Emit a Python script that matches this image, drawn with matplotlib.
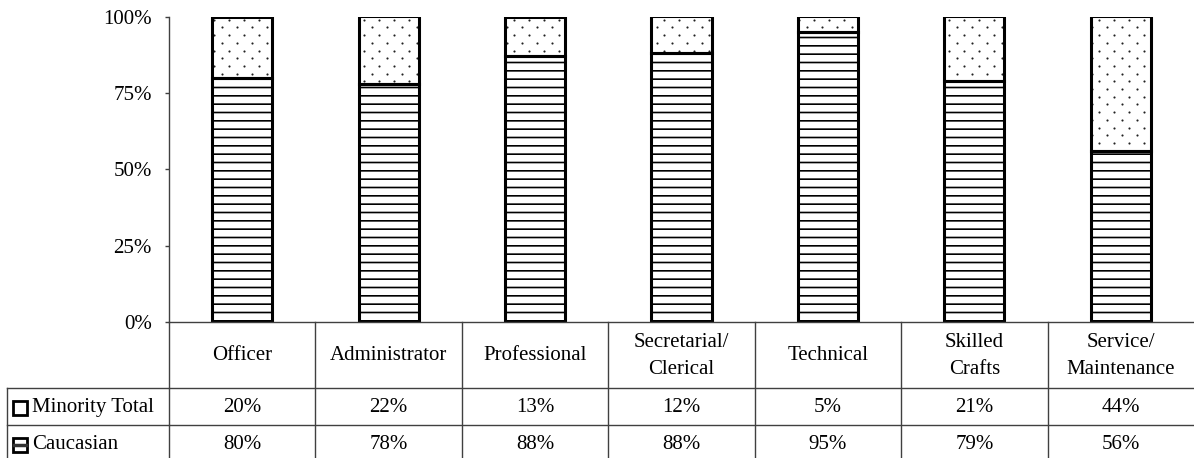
import matplotlib
matplotlib.use("Agg")
import matplotlib.pyplot as plt
from matplotlib.patches import Rectangle
from matplotlib.lines import Line2D
from matplotlib.transforms import Affine2D, blended_transform_factory
import numpy as np

# ---- data ----
categories = ["Officer", "Administrator", "Professional", "Secretarial/\nClerical",
              "Technical", "Skilled\nCrafts", "Service/\nMaintenance"]
minority = [20, 22, 13, 12, 5, 21, 44]
caucasian = [80, 78, 88, 88, 95, 79, 56]
series_names = ["Minority Total", "Caucasian"]
yticks = [0, 25, 50, 75, 100]

# ---- figure setup ----
W, H = 1194, 458
plt.rcParams['font.family'] = ['Liberation Serif', 'DejaVu Serif']
plt.rcParams['font.size'] = 15
plt.rcParams['hatch.linewidth'] = 1.2

fig = plt.figure(figsize=(W / 100, H / 100), dpi=100)
left, right = 169, 1194
top, bottom = 16.5, 322
ax = fig.add_axes([left / W, 1 - bottom / H, (right - left) / W, (bottom - top) / H])

x = np.arange(len(categories))
mino = np.array(minority, dtype=float)
cauc = np.array(caucasian, dtype=float)
total = mino + cauc
cauc_share = cauc / total * 100
mino_share = 100 - cauc_share

bar_w = 0.41
ax.bar(x, cauc_share, width=bar_w, color='white', edgecolor='black',
       linewidth=2.2, hatch='--', zorder=2)
top_bars = ax.bar(x, mino_share, bottom=cauc_share, width=bar_w, color='none',
                  edgecolor='black', linewidth=2.2, zorder=3)

pix = Affine2D().scale(1, -1).translate(0, H)          # image-pixel coords

# dotted fill texture for the upper segments, clipped to each bar
gx, gy = np.meshgrid(np.arange(0, W, 15.0), np.arange(0, H, 7.7))
gx = gx + np.where((np.arange(gy.shape[0]) % 2)[:, None] == 1, 7.5, 0.0)
for patch in top_bars.patches:
    dots = ax.scatter(gx.ravel() + 4, gy.ravel() + 4.3, s=2.4, color='#222222',
                      linewidths=0, transform=pix, zorder=2.5)
    dots.set_clip_path(patch)

ax.set_xlim(-0.5, len(categories) - 0.5)
ax.set_ylim(0, 100)
ax.set_yticks(yticks)
ax.set_yticklabels([f"{v}%" for v in yticks])
ax.set_xticks([])
ax.tick_params(axis='y', direction='out', length=3, width=1, pad=9.5,
               color='#404040')
for s in ['top', 'right']:
    ax.spines[s].set_visible(False)
ax.spines['left'].set_color('#404040')
ax.spines['left'].set_linewidth(1)
ax.spines['bottom'].set_color('#404040')
ax.spines['bottom'].set_linewidth(1)

# ---- data table below the axes ----
colx = blended_transform_factory(ax.transData, pix)     # x in data, y in pixels
line_kw = dict(color='#404040', linewidth=1, clip_on=False)

row_top = [388, 425]
row_h = 37
tab_bottom = 465
n = len(categories)

# vertical separators
for b in np.arange(n) - 0.5:
    ax.add_line(Line2D([b, b], [bottom, tab_bottom], transform=colx, **line_kw))
ax.add_line(Line2D([7, 7], [row_top[0], tab_bottom], transform=pix, **line_kw))

# horizontal separators
for yr in row_top:
    ax.add_line(Line2D([7, left], [yr, yr], transform=pix, **line_kw))
    ax.add_line(Line2D([-0.5, n - 0.5], [yr, yr], transform=colx, **line_kw))

# header labels
for i, c in enumerate(categories):
    ax.text(i, 356, c, transform=colx, ha='center', va='center',
            linespacing=1.55, fontsize=15)

# value rows
rows = [minority, caucasian]
for r, vals in enumerate(rows):
    yc = row_top[r] + row_h / 2 + 1
    for i, v in enumerate(vals):
        ax.text(i, yc, f"{v}%", transform=colx, ha='center', va='center', fontsize=15)
    # legend key + series name
    ax.add_patch(Rectangle((13, yc - 7), 14, 14, transform=pix, facecolor='white',
                           edgecolor='black', linewidth=2, clip_on=False))
    if r == 1:
        ax.add_line(Line2D([14, 26], [yc, yc], transform=pix, color='#333333',
                           linewidth=2.5, clip_on=False))
    ax.text(32, yc, series_names[r], transform=pix, ha='left', va='center', fontsize=15)

fig.savefig("out.png", dpi=100)
